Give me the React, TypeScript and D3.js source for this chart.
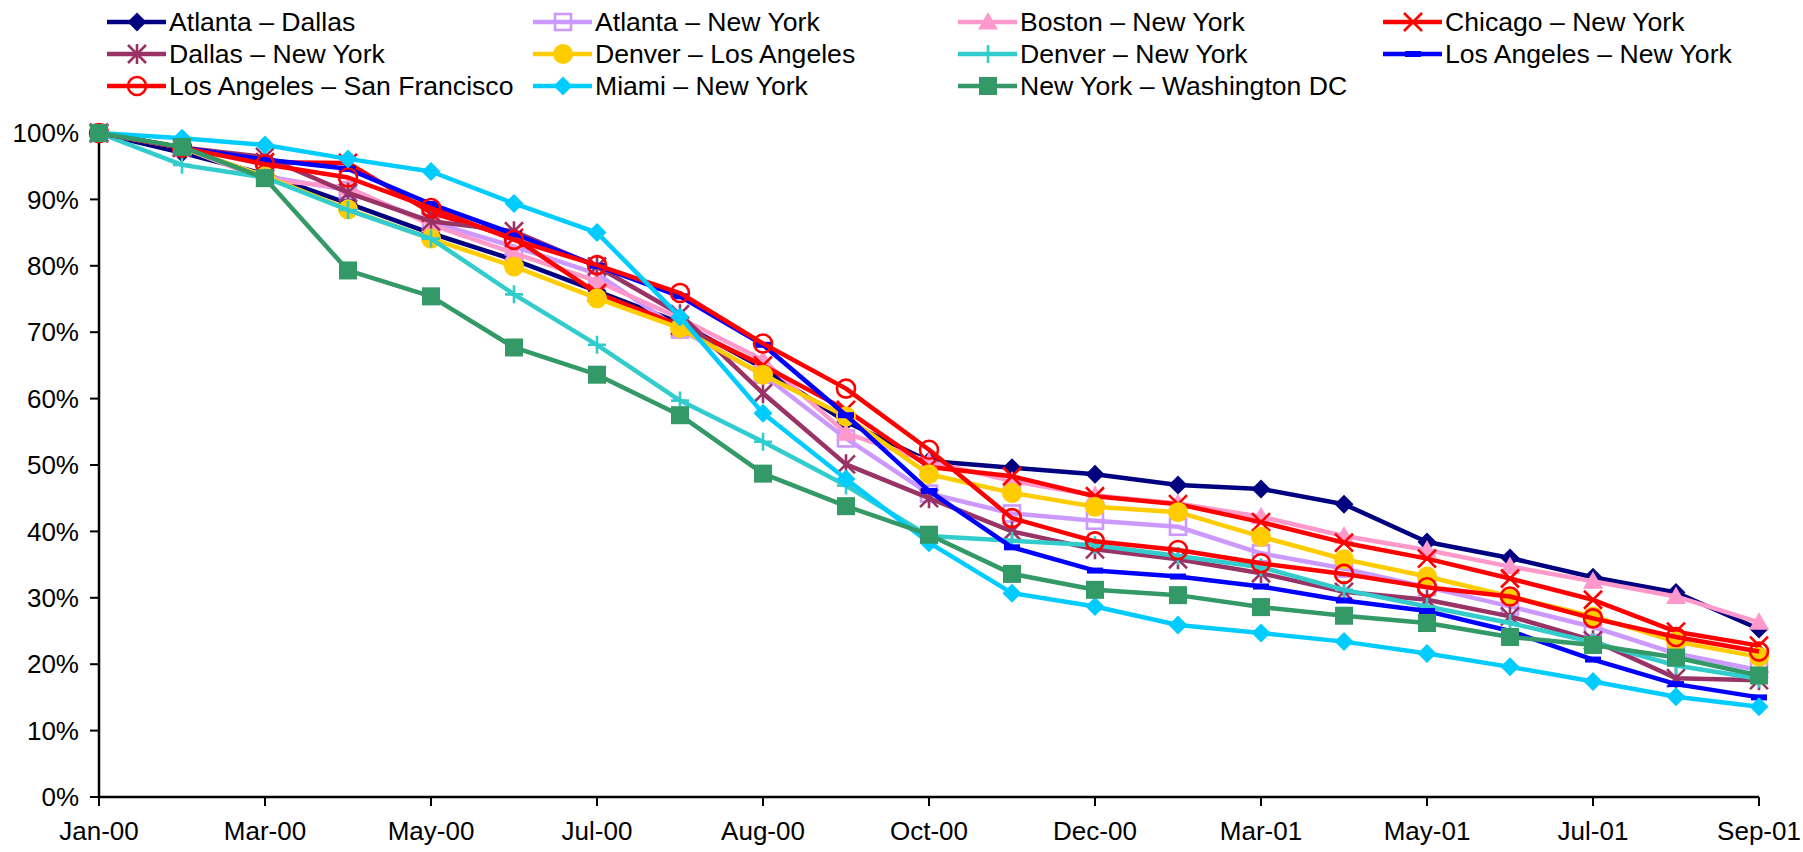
import React from 'react';
import * as d3 from 'd3';

const W = 1803;
const H = 852;

const tickLabels = ['Jan-00', 'Mar-00', 'May-00', 'Jul-00', 'Aug-00', 'Oct-00', 'Dec-00', 'Mar-01', 'May-01', 'Jul-01', 'Sep-01'];
const yTicks = [0, 0.1, 0.2, 0.3, 0.4, 0.5, 0.6, 0.7, 0.8, 0.9, 1.0];

const atlantaDallas = [100, 97.0, 93.8, 89.4, 84.9, 80.9, 76.2, 71.4, 64.6, 56.5, 50.6, 49.6, 48.6, 47.0, 46.4, 44.1, 38.4, 36.0, 33.1, 30.8, 25.3];
const atlantaNewYork = [100, 97.8, 93.5, 91.4, 86.6, 82.9, 78.8, 70.4, 63.6, 54.0, 45.7, 42.7, 41.6, 40.7, 36.7, 34.4, 31.6, 28.7, 25.6, 21.6, 19.1];
const bostonNewYork = [100, 97.8, 93.0, 91.8, 86.2, 81.9, 77.7, 72.1, 65.8, 54.8, 50.5, 47.6, 45.4, 44.2, 42.2, 39.3, 37.2, 34.7, 32.5, 30.2, 26.3];
const chicagoNewYork = [100, 97.8, 95.6, 95.5, 88.0, 84.2, 75.9, 71.0, 65.0, 58.3, 49.7, 48.3, 45.3, 44.1, 41.4, 38.3, 35.9, 32.9, 29.7, 24.9, 22.8];
const dallasNewYork = [100, 97.8, 96.4, 91.0, 86.7, 85.2, 79.9, 72.7, 60.8, 50.1, 45.0, 40.0, 37.3, 35.8, 33.7, 30.9, 29.7, 27.2, 23.6, 17.9, 17.6];
const denverLosAngeles = [100, 97.8, 93.5, 88.5, 84.1, 79.9, 75.1, 70.6, 63.6, 57.3, 48.6, 45.8, 43.7, 42.9, 39.2, 35.8, 33.2, 30.2, 27.2, 23.4, 21.1];
const denverNewYork = [100, 95.2, 93.3, 88.4, 84.1, 75.7, 68.1, 59.7, 53.5, 46.9, 39.3, 38.6, 37.9, 36.3, 34.6, 31.2, 28.7, 26.2, 23.3, 19.8, 17.8];
const losAngelesNewYork = [100, 97.8, 96.0, 94.6, 89.3, 84.8, 80.0, 75.4, 68.1, 57.5, 46.1, 37.6, 34.1, 33.2, 31.7, 29.6, 28.0, 25.0, 20.7, 17.0, 15.0];
const losAngelesSanFrancisco = [100, 97.8, 95.3, 93.3, 88.7, 83.9, 80.1, 75.9, 68.3, 61.5, 52.3, 42.0, 38.5, 37.2, 35.2, 33.6, 31.6, 30.2, 26.9, 24.1, 21.9];
const miamiNewYork = [100, 99.2, 98.2, 96.1, 94.2, 89.4, 85.0, 72.3, 57.8, 47.9, 38.3, 30.7, 28.7, 25.9, 24.7, 23.4, 21.6, 19.6, 17.4, 15.1, 13.6];
const newYorkWashington = [100, 97.9, 93.2, 79.3, 75.4, 67.7, 63.6, 57.5, 48.7, 43.8, 39.5, 33.6, 31.2, 30.4, 28.6, 27.3, 26.2, 24.1, 22.9, 21.0, 18.3];

const seriesNames = [
  'Atlanta – Dallas', 'Atlanta – New York', 'Boston – New York', 'Chicago – New York',
  'Dallas – New York', 'Denver – Los Angeles', 'Denver – New York', 'Los Angeles – New York',
  'Los Angeles – San Francisco', 'Miami – New York', 'New York – Washington DC',
];
const seriesColors = ['#000080', '#CC99FF', '#FF99CC', '#FF0000', '#993366', '#FFCC00', '#33CCCC', '#0000FF', '#FF0000', '#00CCFF', '#339966'];
const seriesMarkers = ['diamond', 'squareOpen', 'triangle', 'x', 'asterisk', 'circle', 'plus', 'dash', 'circleOpen', 'diamond', 'square'];
const seriesValues = [atlantaDallas, atlantaNewYork, bostonNewYork, chicagoNewYork, dallasNewYork, denverLosAngeles, denverNewYork, losAngelesNewYork, losAngelesSanFrancisco, miamiNewYork, newYorkWashington];

const FONT = '"Liberation Sans", Arial, sans-serif';

function Marker({ type, color, x, y }: { type: string; color: string; x: number; y: number }) {
  const sw = 2.6;
  switch (type) {
    case 'diamond': {
      const s = 9.5;
      return <path d={`M${x},${y - s}L${x + s},${y}L${x},${y + s}L${x - s},${y}Z`} fill={color} />;
    }
    case 'square': {
      const s = 9;
      return <rect x={x - s} y={y - s} width={2 * s} height={2 * s} fill={color} />;
    }
    case 'squareOpen': {
      const s = 8;
      return <rect x={x - s} y={y - s} width={2 * s} height={2 * s} fill="none" stroke={color} strokeWidth={sw} />;
    }
    case 'triangle': {
      const s = 10;
      return <path d={`M${x},${y - s}L${x + s},${y + s * 0.75}L${x - s},${y + s * 0.75}Z`} fill={color} />;
    }
    case 'circle':
      return <circle cx={x} cy={y} r={10} fill={color} />;
    case 'circleOpen':
      return <circle cx={x} cy={y} r={9} fill="none" stroke={color} strokeWidth={sw} />;
    case 'x': {
      const s = 9;
      return (
        <path d={`M${x - s},${y - s}L${x + s},${y + s}M${x - s},${y + s}L${x + s},${y - s}`} stroke={color} strokeWidth={sw} fill="none" />
      );
    }
    case 'asterisk': {
      const s = 9;
      return (
        <path d={`M${x - s},${y - s}L${x + s},${y + s}M${x - s},${y + s}L${x + s},${y - s}M${x},${y - s - 1}L${x},${y + s + 1}`} stroke={color} strokeWidth={sw} fill="none" />
      );
    }
    case 'plus': {
      const s = 9;
      return <path d={`M${x - s},${y}L${x + s},${y}M${x},${y - s}L${x},${y + s}`} stroke={color} strokeWidth={sw} fill="none" />;
    }
    case 'dash':
      return <rect x={x - 8} y={y - 3} width={16} height={6} fill={color} />;
    default:
      return null;
  }
}

export default function App() {
  const n = atlantaDallas.length;
  const x = d3.scalePoint<number>().domain(d3.range(n)).range([99, 1759]);
  const y = d3.scaleLinear().domain([0, 1]).range([797, 133]);
  const line = d3
    .line<number>()
    .x((_, i) => x(i) as number)
    .y((v) => y(v / 100));

  const legendCols = [107, 533, 958, 1383];
  const legendRows = [22, 54, 86];

  return (
    <svg width={W} height={H} style={{ position: 'absolute', left: 0, top: 0, background: '#fff' }} fontFamily={FONT}>
      <rect width={W} height={H} fill="#fff" />
      {/* Y axis */}
      <line x1={99} x2={99} y1={y(1)} y2={y(0)} stroke="#000" strokeWidth={2.5} />
      {yTicks.map((t) => (
        <g key={t}>
          <line x1={90} x2={99} y1={y(t)} y2={y(t)} stroke="#000" strokeWidth={2} />
          <text x={79} y={y(t)} dy="0.35em" textAnchor="end" fontSize={26}>
            {d3.format('.0%')(t)}
          </text>
        </g>
      ))}
      {/* X axis */}
      <line x1={99} x2={1759} y1={y(0)} y2={y(0)} stroke="#000" strokeWidth={2.5} />
      {tickLabels.map((lab, k) => {
        const xi = x(k * 2) as number;
        return (
          <g key={lab + k}>
            <line x1={xi} x2={xi} y1={y(0)} y2={y(0) + 9} stroke="#000" strokeWidth={2} />
            <text x={xi} y={831} dy="0.35em" textAnchor="middle" fontSize={26}>
              {lab}
            </text>
          </g>
        );
      })}
      {/* Series */}
      {seriesValues.map((vals, si) => (
        <g key={seriesNames[si]}>
          <path d={line(vals) || ''} fill="none" stroke={seriesColors[si]} strokeWidth={4.5} strokeLinejoin="round" />
          {vals.map((v, i) => (
            <Marker key={i} type={seriesMarkers[si]} color={seriesColors[si]} x={x(i) as number} y={y(v / 100)} />
          ))}
        </g>
      ))}
      {/* Legend */}
      {seriesNames.map((name, si) => {
        const cx = legendCols[si % 4];
        const cy = legendRows[Math.floor(si / 4)];
        return (
          <g key={'lg' + name}>
            <line x1={cx} x2={cx + 59} y1={cy} y2={cy} stroke={seriesColors[si]} strokeWidth={4.5} />
            <Marker type={seriesMarkers[si]} color={seriesColors[si]} x={cx + 30} y={cy} />
            <text x={cx + 62} y={cy} dy="0.35em" fontSize={26.6}>
              {name}
            </text>
          </g>
        );
      })}
    </svg>
  );
}
